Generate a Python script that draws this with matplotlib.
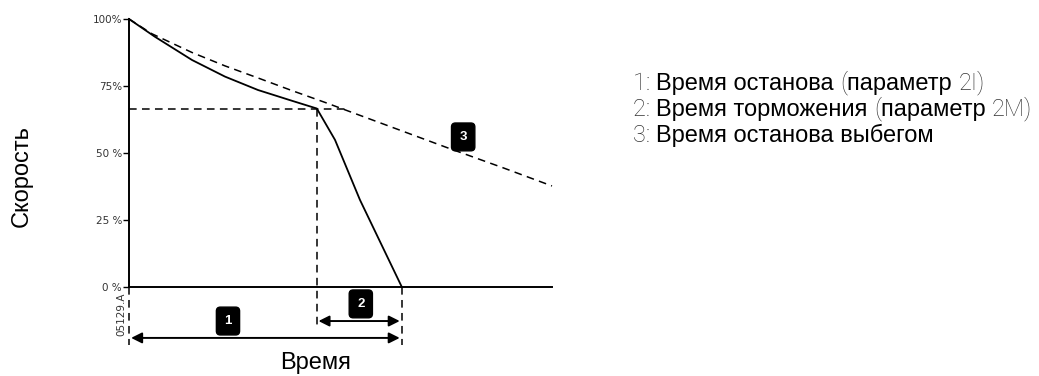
import matplotlib
matplotlib.use("Agg")
import matplotlib.pyplot as plt
from matplotlib.offsetbox import TextArea, HPacker, AnnotationBbox

# time axis 0..100 (arbitrary units), speed in %
t_brake = [0, 6.1, 14.9, 22.7, 30.5, 38.5, 44.4, 48.7, 54.6, 64.5]
v_brake = [100, 93.4, 84.7, 78.5, 73.5, 69.5, 66.6, 54.9, 32.5, 0]

t_coast = [0, 5.4, 14.9, 22.7, 30.5, 38.5, 46.3, 75.2, 88.4, 100]
v_coast = [100, 94.5, 87.5, 82.5, 78.0, 73.3, 68.9, 52.0, 44.5, 37.7]

t_stop = 44.4      # конец плавного останова
v_stop = 66.5
t_end = 64.5       # конец торможения

yticks = [0, 25, 50, 75, 100]
ytick_labels = ["0 %", "25 %", "50 %", "75%", "100%"]

legend_lines = [
    [("1: ", "light"), ("Время останова ", "reg"), ("(", "light"),
     ("параметр ", "reg"), ("2I)", "light")],
    [("2: ", "light"), ("Время торможения ", "reg"), ("(", "light"),
     ("параметр ", "reg"), ("2M)", "light")],
    [("3: ", "light"), ("Время останова выбегом", "reg")],
]

W, H = 1039, 376
fig = plt.figure(figsize=(W / 100, H / 100), dpi=100)
ax = fig.add_axes([129 / W, (H - 287) / H, 423 / W, 268 / H])
ax.set_xlim(0, 100)
ax.set_ylim(0, 100)

dash = dict(color="black", lw=1.1, linestyle=(0, (5, 3.5)), clip_on=False)

ax.plot(t_brake, v_brake, color="black", lw=1.3, clip_on=False)
ax.plot(t_coast, v_coast, **dash)
ax.plot([0, 51.8], [v_stop, v_stop], **dash)
ax.plot([t_stop, t_stop], [v_stop, -14.9], **dash)
ax.plot([t_end, t_end], [0, -21.6], **dash)
ax.plot([0, 0], [0, -21.6], **dash)

for spine in ["top", "right"]:
    ax.spines[spine].set_visible(False)
for spine in ["left", "bottom"]:
    ax.spines[spine].set_linewidth(1.4)

ax.set_xticks([])
ax.set_yticks(yticks)
ax.set_yticklabels(ytick_labels, fontsize=7.5, color="#333333",
                   family="DejaVu Sans")
ax.tick_params(axis="y", length=4, width=1, pad=1)

arrow = dict(arrowstyle="<|-|>", color="black", lw=1.4, mutation_scale=16,
             shrinkA=0, shrinkB=0)
ax.annotate("", xy=(0.5, -19.0), xytext=(64.0, -19.0), arrowprops=arrow,
            annotation_clip=False)
ax.annotate("", xy=(44.8, -12.7), xytext=(64.0, -12.7), arrowprops=arrow,
            annotation_clip=False)

box = dict(boxstyle="round,pad=0.6,rounding_size=0.3", fc="black", ec="black")
for txt, x, y in [("1", 23.4, -12.7), ("2", 54.8, -6.3), ("3", 79.0, 56.0)]:
    ax.text(x, y, txt, color="white", fontsize=9.5, fontweight="bold",
            family="Liberation Sans", ha="center", va="center", bbox=box,
            clip_on=False)

fig.text(121.5 / W, 1 - 314 / H, "05129.A", rotation=90, fontsize=7.5,
         color="#333333", family="DejaVu Sans", ha="center", va="center")

fig.text(316 / W, 1 - 363 / H, "Время", fontsize=17, family="Liberation Sans",
         ha="center", va="center")
fig.text(22 / W, 1 - 176 / H, "Скорость", fontsize=17, rotation=90,
         family="Liberation Sans", ha="center", va="center")

styles = {
    "light": dict(fontsize=17, family="Roboto", fontweight="light", color="#333333"),
    "reg": dict(fontsize=17, family="Liberation Sans", color="black"),
}
for i, parts in enumerate(legend_lines):
    areas = [TextArea(s, textprops=styles[k]) for s, k in parts]
    pack = HPacker(children=areas, sep=0, pad=0, align="baseline")
    ab = AnnotationBbox(pack, (633 / W, 1 - (83 + 26 * i) / H),
                        xycoords="figure fraction", box_alignment=(0, 0.5),
                        frameon=False, pad=0)
    fig.add_artist(ab)

fig.savefig("out.png", dpi=100)
